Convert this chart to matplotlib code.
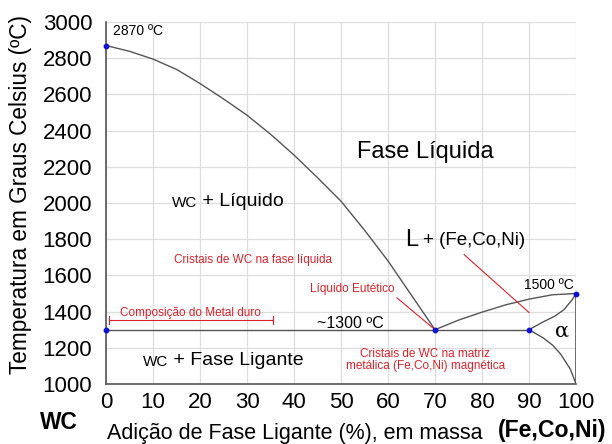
import matplotlib
matplotlib.use("Agg")
import matplotlib.pyplot as plt

plt.rcParams['font.family'] = ['Liberation Sans', 'DejaVu Sans']

# liquidus WC + L, from pure WC down to the eutectic
liq_x = [0, 5, 10, 15, 20, 25, 30, 35, 40, 45, 50, 55, 60, 65, 70]
liq_t = [2870, 2838, 2795, 2738, 2660, 2575, 2485, 2380, 2265, 2140, 2010,
         1850, 1680, 1490, 1300]

# liquidus on the binder side, eutectic to 100 %
liq2_x = [70, 75, 80, 85, 90, 95, 100]
liq2_t = [1300, 1353, 1397, 1437, 1469, 1493, 1500]

# alpha solidus and solvus
sol_x = [90, 93, 95.5, 97.4, 99.2, 100]
sol_t = [1300, 1343, 1375, 1410, 1466, 1500]
solv_x = [90, 93, 95, 96.7, 98.8, 100]
solv_t = [1300, 1255, 1215, 1166, 1082, 1000]

eutectic_t = 1300
eutectic_x = 70
wc_melt = 2870
binder_melt = 1500

pts_x = [0, 0, 70, 90, 100]
pts_t = [2870, 1300, 1300, 1300, 1500]

xticks = list(range(0, 101, 10))
yticks = list(range(1000, 3001, 200))

line_c = '#555555'
red = '#d8232a'

fig = plt.figure(figsize=(6.12, 4.44), dpi=100)
ax = fig.add_axes([0.1732, 0.1351, 0.7680, 0.8154])

ax.set_xlim(0, 100)
ax.set_ylim(1000, 3000)
ax.set_xticks(xticks)
ax.set_yticks(yticks)
ax.grid(True, color='#dddddd', linewidth=0.9)
ax.set_axisbelow(True)
ax.tick_params(length=0, labelsize=16)
ax.tick_params(axis='y', pad=10)
ax.tick_params(axis='x', pad=6)
for s in ['top', 'right']:
    ax.spines[s].set_visible(False)
for s in ['left', 'bottom']:
    ax.spines[s].set_color(line_c)
    ax.spines[s].set_linewidth(1.2)
    ax.spines[s].set_zorder(3)

ax.plot(liq_x, liq_t, color=line_c, lw=1.0)
ax.plot(liq2_x, liq2_t, color=line_c, lw=1.0)
ax.plot(sol_x, sol_t, color=line_c, lw=1.0)
ax.plot(solv_x, solv_t, color=line_c, lw=1.0)
ax.plot([0, 90], [eutectic_t, eutectic_t], color=line_c, lw=1.0)
ax.plot([100, 100], [1000, binder_melt], color=line_c, lw=1.2)
ax.plot(pts_x, pts_t, 'o', color='#1010d0', ms=3.2, clip_on=False, zorder=5)

# red leader lines
ax.plot([61.9, eutectic_x], [1476, eutectic_t], color=red, lw=0.8)
ax.plot([76.2, 90], [1715, 1395], color=red, lw=0.8)

# hard metal composition bracket
ax.plot([0.7, 35.6], [1354, 1354], color=red, lw=0.8)
ax.plot([0.7, 0.7], [1330, 1378], color=red, lw=0.8)
ax.plot([35.6, 35.6], [1330, 1378], color=red, lw=0.8)
ax.text(18, 1358, 'Composição do Metal duro', color=red, fontsize=8.5,
        ha='center', va='bottom')

ax.text(1.5, 2949, '%d ºC' % wc_melt, fontsize=10, ha='left', va='center')
ax.text(99.5, 1545, '%d ºC' % binder_melt, fontsize=10, ha='right', va='center')
ax.text(51.9, eutectic_t + 33, '~%d ºC' % eutectic_t, fontsize=11.5,
        ha='center', va='center')

ax.text(53.4, 2282, 'Fase Líquida', fontsize=17, ha='left', va='center')
wc1 = ax.text(14, 1980, 'WC', fontsize=11, ha='left', va='baseline')
ax.annotate(' + Líquido', xy=(1, 0), xycoords=wc1, fontsize=14,
            ha='left', va='bottom')
wc2 = ax.text(7.8, 1100, 'WC', fontsize=11, ha='left', va='baseline')
ax.annotate(' + Fase Ligante', xy=(1, 0), xycoords=wc2, fontsize=14,
            ha='left', va='bottom')

ax.text(63.6, 1764, 'L', fontsize=17, ha='left', va='baseline')
ax.text(67.5, 1766, '+ (Fe,Co,Ni)', fontsize=13.5, ha='left', va='baseline')
ax.text(97, 1290, 'α', fontsize=15, ha='center', va='center', family='DejaVu Serif')

ax.text(31.3, 1685, 'Cristais de WC na fase líquida', color=red, fontsize=8.5,
        ha='center', va='center')
ax.text(52.3, 1525, 'Líquido Eutético', color=red, fontsize=8.5,
        ha='center', va='center')
ax.text(67.9, 1166, 'Cristais de WC na matriz', color=red, fontsize=8.5,
        ha='center', va='center')
ax.text(67.9, 1101, 'metálica (Fe,Co,Ni) magnética', color=red, fontsize=8.5,
        ha='center', va='center')

fig.text(9 / 612, 1 - 194.5 / 444, 'Temperatura em Graus Celsius (ºC)',
         fontsize=16.3, rotation=90, ha='left', va='center')
fig.text(107 / 612, 1 - 433 / 444, 'Adição de Fase Ligante (%), em massa',
         fontsize=15.5, ha='left', va='center')
fig.text(40 / 612, 1 - 422.5 / 444, 'WC', fontsize=16.4, fontweight='bold',
         ha='left', va='center')
fig.text(498 / 612, 1 - 430 / 444, '(Fe,Co,Ni)', fontsize=16.6, fontweight='bold',
         ha='left', va='center')

fig.savefig('out.png', dpi=100)
